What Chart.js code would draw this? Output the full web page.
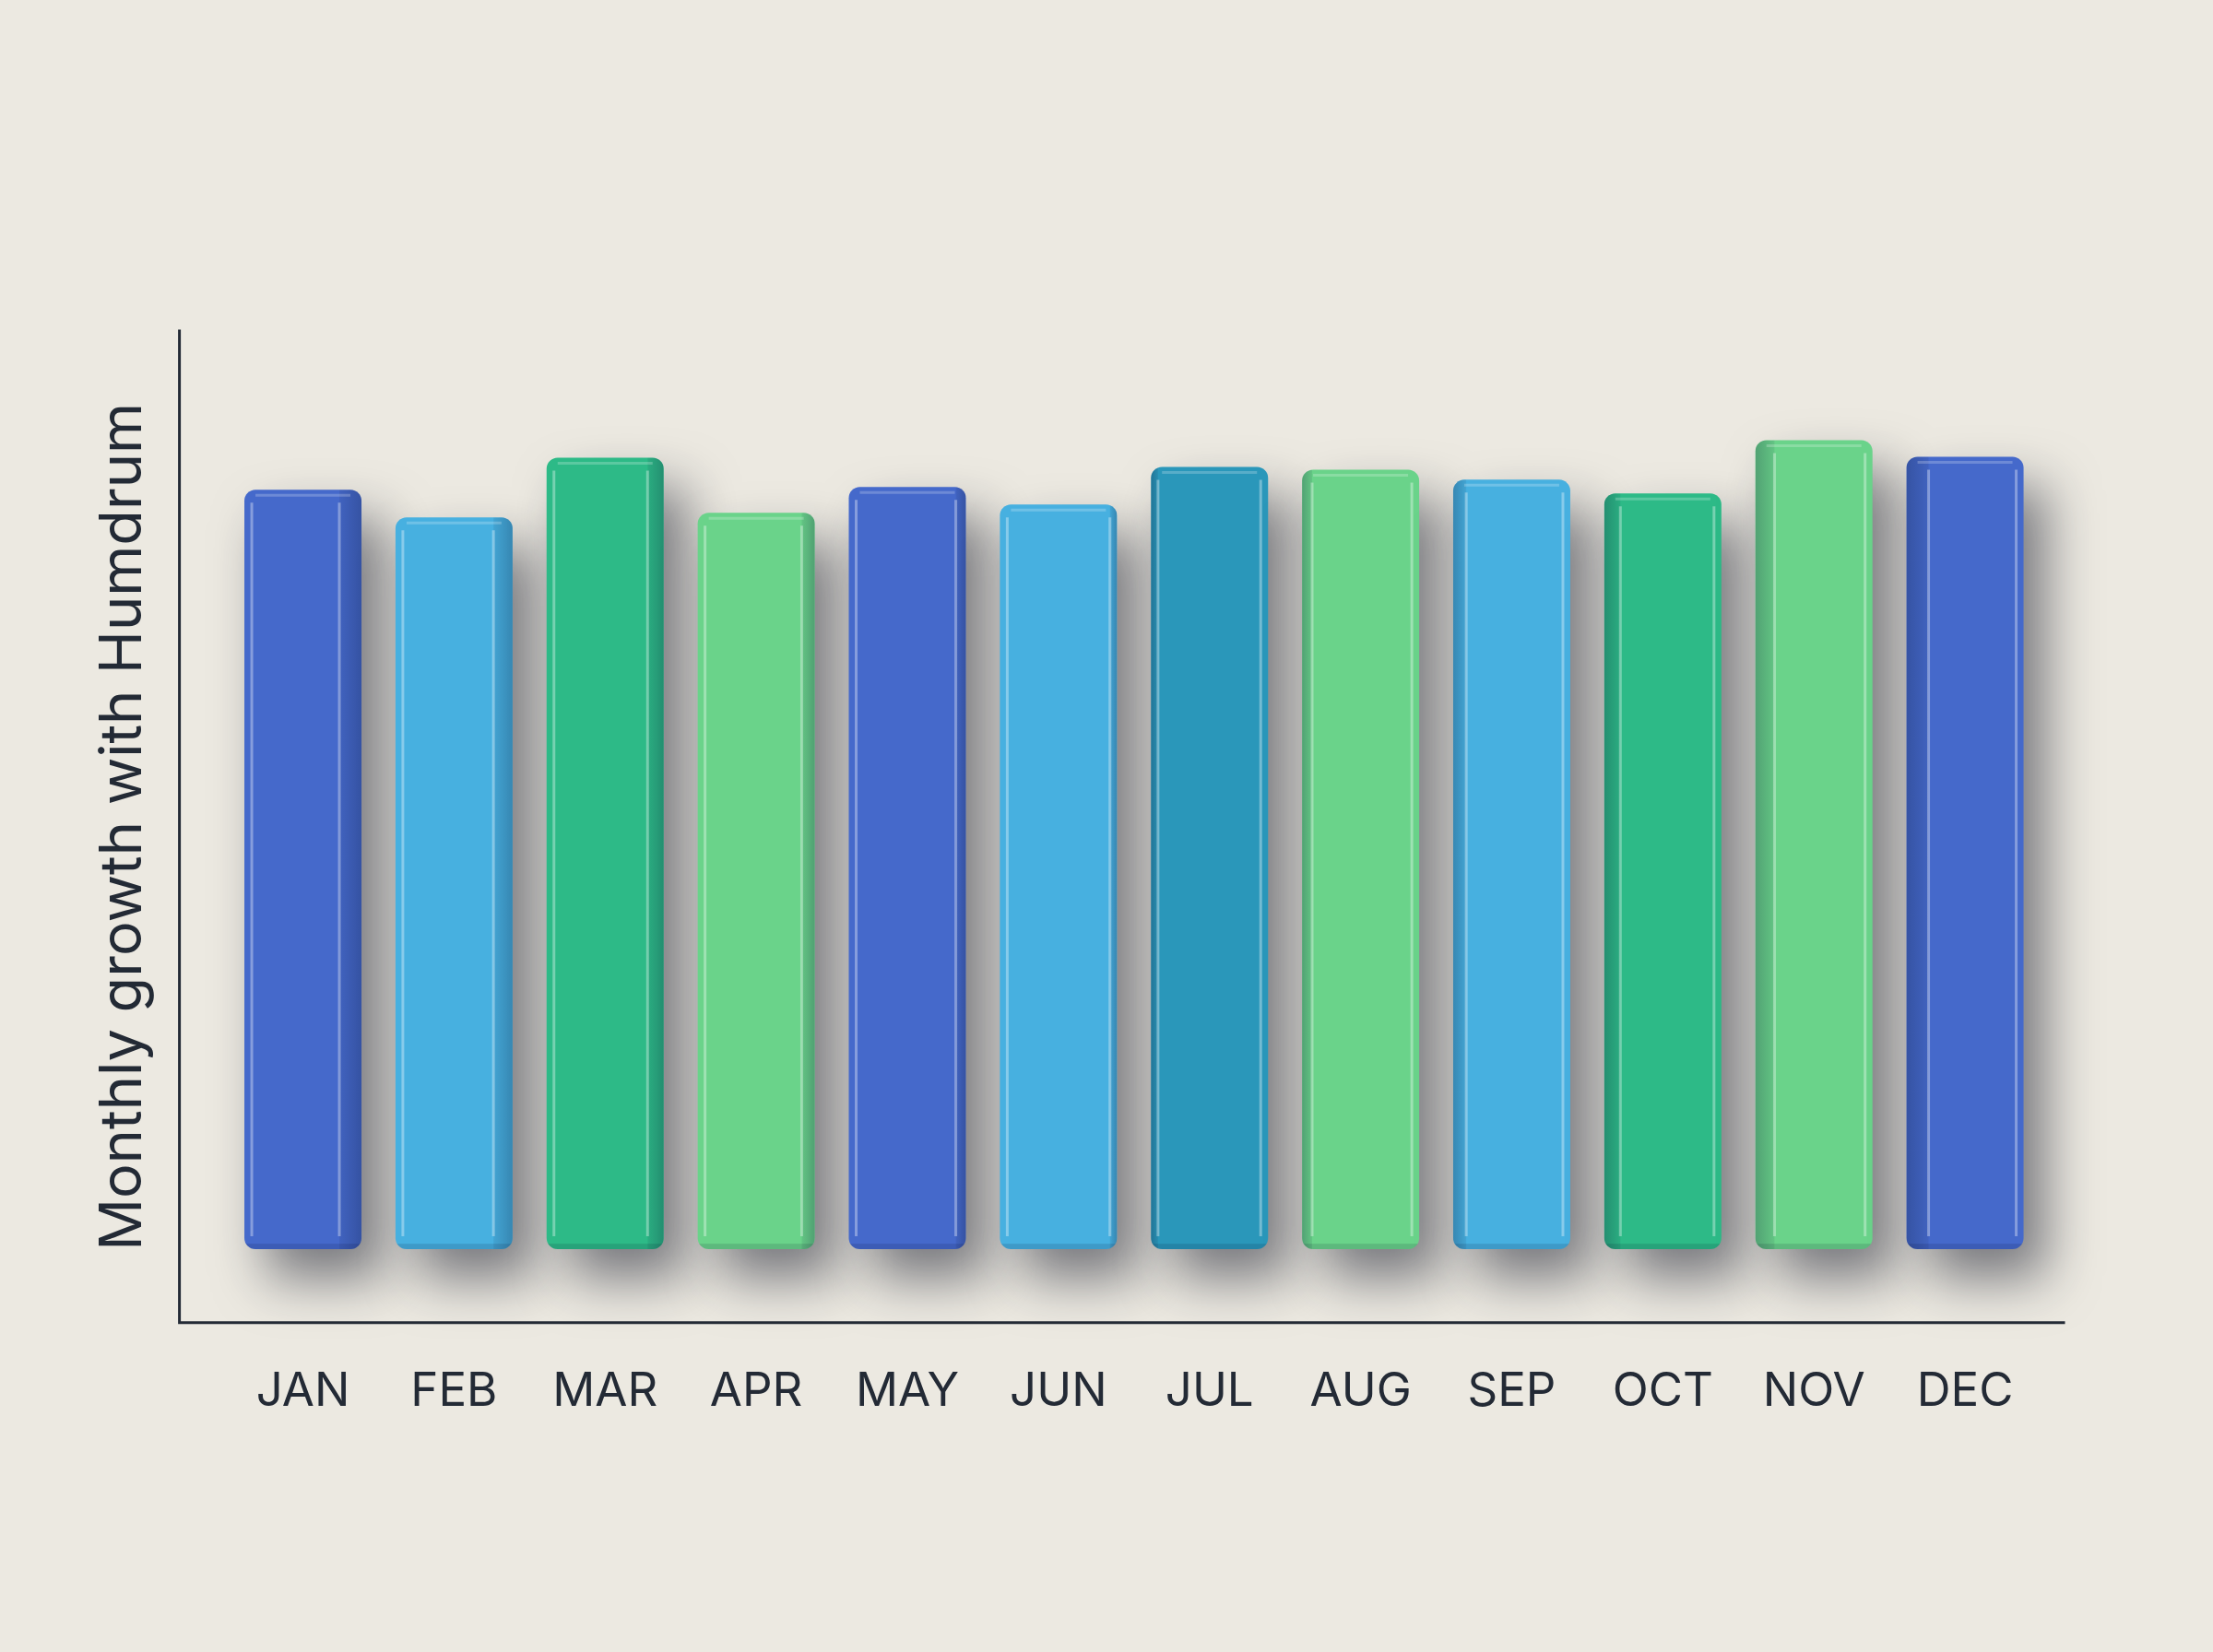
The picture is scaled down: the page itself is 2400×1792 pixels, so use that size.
<!DOCTYPE html>
<html>
<head>
<meta charset="utf-8">
<script src="https://cdn.jsdelivr.net/npm/chart.js@4.4.1/dist/chart.umd.min.js"></script>
<style>
    html, body { margin: 0; padding: 0; background: #ECE9E1; }
    #wrap { width: 2400px; height: 1792px; position: relative; }
</style>
</head>
<body>
<div id="wrap"><canvas id="growthChart"></canvas></div>
<script>
// Dữ liệu biểu đồ
var months = ['JAN', 'FEB', 'MAR', 'APR', 'MAY', 'JUN', 'JUL', 'AUG', 'SEP', 'OCT', 'NOV', 'DEC'];
var growth = [82.7, 79.7, 86.2, 80.2, 83.0, 81.1, 85.2, 84.9, 83.8, 82.3, 88.1, 86.3];
var barColors = ['#4569CB', '#47B0E0', '#2DBA87', '#6AD38A', '#4569CB', '#47B0E0',
                 '#2A97BA', '#6AD38A', '#47B0E0', '#2DBA87', '#6AD38A', '#4569CB'];

var inkColor = '#232A35';

// Vẽ trục, bóng đổ và mặt bên của cột
var axisLines = {
    id: 'axisLines',
    afterDraw: function (chart) {
        var a = chart.chartArea;
        var ctx = chart.ctx;
        ctx.save();
        ctx.strokeStyle = inkColor;
        ctx.lineWidth = 3;
        ctx.lineCap = 'square';
        ctx.beginPath();
        ctx.moveTo(a.left - 52, a.top);
        ctx.lineTo(a.left - 52, a.bottom);
        ctx.lineTo(a.right + 25, a.bottom);
        ctx.stroke();
        ctx.restore();
    }
};

var barShade = {
    id: 'barShade',
    beforeDatasetsDraw: function (chart) {
        var ctx = chart.ctx;
        ctx.save();
        ctx.shadowColor = 'rgba(25, 30, 45, 0.55)';
        ctx.shadowBlur = 55;
        ctx.shadowOffsetX = 24;
        ctx.shadowOffsetY = 32;
    },
    afterDatasetsDraw: function (chart) {
        var ctx = chart.ctx;
        ctx.restore();
        var meta = chart.getDatasetMeta(0);
        var mid = (meta.data.length - 1) / 2;
        meta.data.forEach(function (bar, i) {
            var p = bar.getProps(['x', 'y', 'base', 'width'], true);
            var left = p.x - p.width / 2, right = p.x + p.width / 2;
            var top = p.y, bottom = p.base;
            var sideW = 6 + Math.abs(i - mid) / mid * 18;
            var onRight = i < mid;
            ctx.save();
            ctx.beginPath();
            ctx.roundRect(left, top, p.width, bottom - top, 12);
            ctx.clip();
            // mặt bên tối hơn
            var sx = onRight ? right - sideW : left;
            var g = ctx.createLinearGradient(sx, 0, sx + sideW, 0);
            g.addColorStop(0, onRight ? 'rgba(10,20,50,0.08)' : 'rgba(10,20,50,0.26)');
            g.addColorStop(1, onRight ? 'rgba(10,20,50,0.26)' : 'rgba(10,20,50,0.08)');
            ctx.fillStyle = g;
            ctx.fillRect(sx, top, sideW, bottom - top);
            // viền sáng
            ctx.strokeStyle = 'rgba(255,255,255,0.35)';
            ctx.lineWidth = 3;
            var ex = onRight ? right - sideW : left + sideW;
            var fx = onRight ? left + 8 : right - 8;
            ctx.beginPath();
            ctx.moveTo(ex, top + 14);
            ctx.lineTo(ex, bottom - 14);
            ctx.moveTo(fx, top + 14);
            ctx.lineTo(fx, bottom - 14);
            ctx.stroke();
            ctx.strokeStyle = 'rgba(255,255,255,0.22)';
            ctx.beginPath();
            ctx.moveTo(left + 12, top + 6);
            ctx.lineTo(right - 12, top + 6);
            ctx.stroke();
            ctx.fillStyle = 'rgba(0,0,30,0.12)';
            ctx.fillRect(left, bottom - 6, p.width, 6);
            ctx.restore();
        });
    }
};

var ctx = document.getElementById('growthChart').getContext('2d');
var growthChart = new Chart(ctx, {
    type: 'bar',
    data: {
        labels: months,
        datasets: [{
            label: 'Monthly growth',
            data: growth,
            backgroundColor: barColors,
            borderWidth: 0,
            borderRadius: 12,
            borderSkipped: false,
            categoryPercentage: 1.0,
            barPercentage: 0.775,
            clip: false
        }]
    },
    options: {
        responsive: true,
        maintainAspectRatio: false,
        animation: false,
        devicePixelRatio: 1,
        layout: {
            padding: { left: 96, right: 187, top: 359, bottom: 208 }
        },
        plugins: {
            legend: { display: false },
            tooltip: { enabled: false }
        },
        scales: {
            x: {
                grid: { display: false, drawTicks: false },
                border: { display: false },
                ticks: {
                    color: inkColor,
                    padding: 44,
                    font: { family: 'Inter', size: 51 }
                }
            },
            y: {
                min: -8,
                max: 100,
                grid: { display: false, drawTicks: false },
                border: { display: false },
                ticks: { display: false },
                title: {
                    display: true,
                    text: 'Monthly growth with Humdrum',
                    color: inkColor,
                    padding: { top: 0, bottom: 75 },
                    font: { family: 'Inter', size: 63 }
                }
            }
        }
    },
    plugins: [barShade, axisLines]
});
</script>
</body>
</html>
